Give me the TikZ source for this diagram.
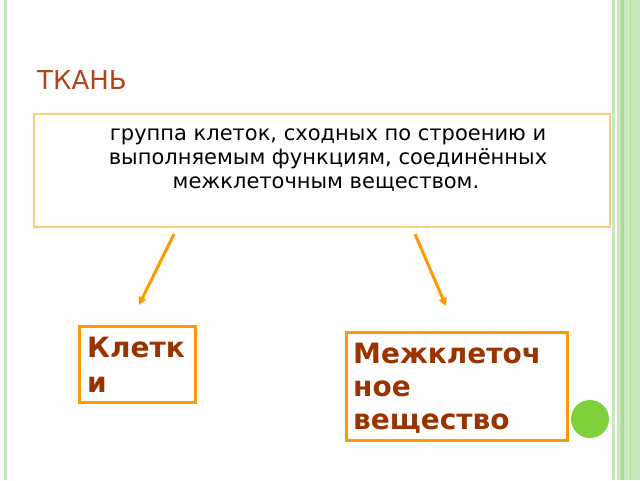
\documentclass[tikz,border=0pt]{standalone}
\usepackage{fontspec}
\setmainfont{DejaVu Sans}
\usetikzlibrary{arrows.meta}
\definecolor{lgreen}{HTML}{C9E7BD}
\definecolor{mgreen}{HTML}{A9DC8E}
\definecolor{dot}{HTML}{7FD13B}
\definecolor{lorange}{HTML}{FFC97A}
\definecolor{orng}{HTML}{FF9900}
\definecolor{titlec}{HTML}{B4441A}
\definecolor{boldc}{HTML}{993300}
\tikzset{
  defbox/.style={draw=lorange, line width=1.8pt, minimum width=576pt, minimum height=113pt, inner sep=0pt},
  conbox/.style={draw=orng, line width=3pt, inner sep=0pt, anchor=north west},
  conn/.style={draw=orng, line width=3pt, -{Triangle[length=8pt,width=8pt]}},
  deftxt/.style={anchor=base, inner sep=0pt, font=\fontsize{21}{24}\selectfont},
  boldtext/.style={text=boldc, font=\fontsize{28}{34}\selectfont\bfseries, anchor=base west, inner sep=0pt}
}
\begin{document}
\begin{tikzpicture}[x=1pt,y=-1pt]
\useasboundingbox (0,0) rectangle (640,480);
\fill[white] (0,0) rectangle (640,480);
% side decorations
\fill[lgreen] (4,0) rectangle (7,480);
\fill[lgreen] (612,0) rectangle (614.5,480);
\fill[lgreen] (617,0) rectangle (640,480);
\fill[mgreen] (621,0) rectangle (623.5,480);
\fill[mgreen!70!lgreen] (629.5,0) rectangle (630.5,480);
% title
\node[anchor=base west, inner sep=0pt, text=titlec, font=\fontsize{26}{30}\selectfont] (title) at (37,89) {ТКАНЬ};
% definition box
\node[defbox, anchor=north west] (def) at (33,113) {};
\node[deftxt] (d1) at (328,140) {группа клеток, сходных по строению и};
\node[deftxt] (d2) at (328,164) {выполняемым функциям, соединённых};
\node[deftxt] (d3) at (326,188) {межклеточным веществом.};
% boxes
\node[conbox, minimum width=116pt, minimum height=76pt] (cells) at (78,325) {};
\node[boldtext] (c1) at (87,357) {Клетк};
\node[boldtext] (c2) at (87,392) {и};
\node[conbox, minimum width=221pt, minimum height=108pt] (matrix) at (345,331) {};
\node[boldtext] (m1) at (353,363) {Межклеточ};
\node[boldtext] (m2) at (353,396) {ное};
\node[boldtext] (m3) at (353,429) {вещество};
% arrows
\coordinate (a1s) at (174,234);
\coordinate (a1e) at (139,305);
\coordinate (a2s) at (415,234);
\coordinate (a2e) at (446,306);
\draw[conn] (a1s) -- (a1e);
\draw[conn] (a2s) -- (a2e);
% dot
\fill[dot] (590,419) circle (19);
\end{tikzpicture}
\end{document}
